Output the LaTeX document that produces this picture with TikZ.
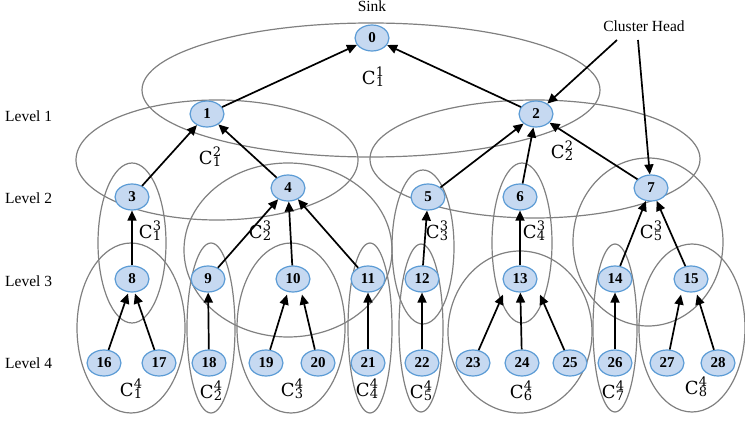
\documentclass[tikz,border=0pt]{standalone}
\usepackage{fontspec}
\setmainfont{Liberation Serif}
\newfontfamily\cambfont{DejaVu Serif}
\usetikzlibrary{arrows.meta,shapes.geometric}
\newcommand{\clab}[2]{{\cambfont\fontsize{18}{18}\selectfont C\kern0.3pt\rlap{\raisebox{-2.5pt}{\fontsize{13}{13}\selectfont #1}}\raisebox{7.5pt}{\fontsize{13}{13}\selectfont #2}}}
\definecolor{nodefill}{RGB}{198,217,241}
\definecolor{nodeline}{RGB}{91,155,213}
\definecolor{clgrey}{RGB}{128,128,128}
\begin{document}
\begin{tikzpicture}[x=1pt,y=-1pt,
  sensor/.style={ellipse,draw=nodeline,fill=nodefill,line width=1.2pt,minimum width=34pt,minimum height=26pt,inner sep=0pt,font=\bfseries\fontsize{15}{15}\selectfont},
  link/.style={-{Triangle[length=10pt,width=9pt]},line width=1.7pt,draw=black},
  cluster/.style={draw=clgrey,line width=1.2pt},
  clabel/.style={inner sep=0pt},
  lvl/.style={anchor=west,inner sep=0pt,font=\fontsize{15.5}{18}\selectfont}]
\useasboundingbox (0,0) rectangle (745,430);
% clusters
\draw[cluster] (371,90) ellipse [x radius=229, y radius=67];
\draw[cluster] (217,160) ellipse [x radius=141, y radius=60];
\draw[cluster] (535,159) ellipse [x radius=165, y radius=59];
\draw[cluster] (132,243) ellipse [x radius=34, y radius=80];
\draw[cluster] (288,250) ellipse [x radius=104, y radius=87];
\draw[cluster] (423,247) ellipse [x radius=31, y radius=77];
\draw[cluster] (522,243) ellipse [x radius=30, y radius=80];
\draw[cluster] (648,242) ellipse [x radius=75, y radius=84];
\draw[cluster] (131,328) ellipse [x radius=54, y radius=85];
\draw[cluster] (211,328) ellipse [x radius=24, y radius=85];
\draw[cluster] (291,328) ellipse [x radius=54, y radius=85];
\draw[cluster] (370,328) ellipse [x radius=22, y radius=85];
\draw[cluster] (421,328) ellipse [x radius=22, y radius=84];
\draw[cluster] (520,332) ellipse [x radius=72, y radius=81];
\draw[cluster] (615,328) ellipse [x radius=22, y radius=84];
\draw[cluster] (692,328) ellipse [x radius=53, y radius=84];
% cluster labels
\node[clabel] (c11) at (373,77) {\clab{1}{1}};
\node[clabel] (c21) at (210,157) {\clab{1}{2}};
\node[clabel] (c22) at (562,151) {\clab{2}{2}};
\node[clabel] (c31) at (150,231) {\clab{1}{3}};
\node[clabel] (c32) at (260,231) {\clab{2}{3}};
\node[clabel] (c33) at (437,231) {\clab{3}{3}};
\node[clabel] (c34) at (534,231) {\clab{4}{3}};
\node[clabel] (c35) at (651,231) {\clab{5}{3}};
\node[clabel] (c41) at (131,389) {\clab{1}{4}};
\node[clabel] (c42) at (211,391) {\clab{2}{4}};
\node[clabel] (c43) at (292,389) {\clab{3}{4}};
\node[clabel] (c44) at (367,389) {\clab{4}{4}};
\node[clabel] (c45) at (421,391) {\clab{5}{4}};
\node[clabel] (c46) at (521,391) {\clab{6}{4}};
\node[clabel] (c47) at (613,391) {\clab{7}{4}};
\node[clabel] (c48) at (696,387) {\clab{8}{4}};
% level labels
\node[lvl] (lv1) at (5,116) {Level 1};
\node[lvl] (lv2) at (5,198) {Level 2};
\node[lvl] (lv3) at (5,281) {Level 3};
\node[lvl] (lv4) at (5,363) {Level 4};
\node[inner sep=0pt,font=\fontsize{15.5}{18}\selectfont] (sink) at (372,6) {Sink};
\node[inner sep=0pt,font=\fontsize{15.5}{18}\selectfont] (ch) at (644,26) {Cluster Head};
% sensor nodes
\node[sensor] (n0) at (372,38) {0};
\node[sensor] (n1) at (207,114) {1};
\node[sensor] (n2) at (536,114) {2};
\node[sensor] (n3) at (132,197) {3};
\node[sensor] (n4) at (288,188) {4};
\node[sensor] (n5) at (428,197) {5};
\node[sensor] (n6) at (520,197) {6};
\node[sensor] (n7) at (651,188) {7};
\node[sensor] (n8) at (132,279) {8};
\node[sensor] (n9) at (208,279) {9};
\node[sensor] (n10) at (293,279) {10};
\node[sensor] (n11) at (368,279) {11};
\node[sensor] (n12) at (422,279) {12};
\node[sensor] (n13) at (520,279) {13};
\node[sensor] (n14) at (615,279) {14};
\node[sensor] (n15) at (691,279) {15};
\node[sensor] (n16) at (104,363) {16};
\node[sensor] (n17) at (159,363) {17};
\node[sensor] (n18) at (209,363) {18};
\node[sensor] (n19) at (266,363) {19};
\node[sensor] (n20) at (318,363) {20};
\node[sensor] (n21) at (368,363) {21};
\node[sensor] (n22) at (422,363) {22};
\node[sensor] (n23) at (473,363) {23};
\node[sensor] (n24) at (522,363) {24};
\node[sensor] (n25) at (570,363) {25};
\node[sensor] (n26) at (615,363) {26};
\node[sensor] (n27) at (667,363) {27};
\node[sensor] (n28) at (718,363) {28};
% links
\draw[link] (n1) -- (n0);
\draw[link] (n2) -- (n0);
\draw[link] (n3) -- (n1);
\draw[link] (n4) -- (n1);
\draw[link] (n5) -- (n2);
\draw[link] (n6) -- (n2);
\draw[link] (n7) -- (n2);
\draw[link] (n8) -- (n3);
\draw[link] (n9) -- (n4);
\draw[link] (n10) -- (n4);
\draw[link] (n11) -- (n4);
\draw[link] (n12) -- (n5);
\draw[link] (n13) -- (n6);
\draw[link] (n14) -- (n7);
\draw[link] (n15) -- (n7);
\draw[link] (n16) -- ([xshift=-4pt,yshift=-1pt]n8.south);
\draw[link] (n17) -- ([xshift=3pt,yshift=-1pt]n8.south);
\draw[link] (n18) -- (n9);
\draw[link] (n19) -- ([xshift=-6pt,yshift=-2pt]n10.south);
\draw[link] (n20) -- ([xshift=9pt,yshift=-2pt]n10.south);
\draw[link] (n21) -- (n11);
\draw[link] (n22) -- (n12);
\draw[link] (n23) -- ([xshift=-17pt,yshift=-2pt]n13.south);
\draw[link] (n24) -- (n13);
\draw[link] (n25) -- ([xshift=20pt,yshift=-2pt]n13.south);
\draw[link] (n26) -- (n14);
\draw[link] (n27) -- ([xshift=-10pt,yshift=-2pt]n15.south);
\draw[link] (n28) -- ([xshift=6pt,yshift=-2pt]n15.south);
% cluster head pointers
\coordinate (cha) at (617,40);
\coordinate (chb) at (638,40);
\draw[link] (cha) -- (n2);
\draw[link] (chb) -- (n7);
\end{tikzpicture}
\end{document}
